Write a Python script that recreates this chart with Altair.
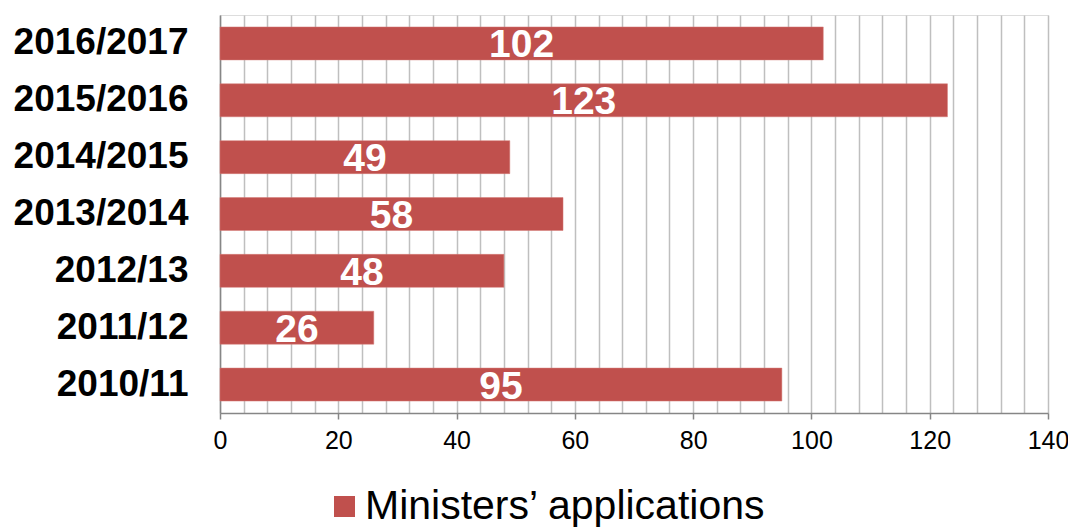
import altair as alt
import pandas as pd

years = ["2016/2017", "2015/2016", "2014/2015", "2013/2014", "2012/13", "2011/12", "2010/11"]
values = [102, 123, 49, 58, 48, 26, 95]
series = "Ministers\u2019 applications"

df = pd.DataFrame({"year": years, "value": values, "series": [series] * len(years)})

FONT = "Liberation Sans"
grid_vals = list(range(0, 141, 4))

x_axis = alt.Axis(
    values=grid_vals,
    title=None,
    grid=True,
    gridColor="#BFBFBF",
    gridWidth=1.5,
    domainColor="#868686",
    domainWidth=1.5,
    tickColor="#868686",
    tickWidth=1.5,
    tickSize=6,
    tickOpacity={"condition": {"test": "datum.value % 20 == 0", "value": 1}, "value": 0},
    labelExpr="datum.value % 20 == 0 ? datum.label : ''",
    labelOverlap=False,
    labelFont=FONT,
    labelFontSize=25,
    labelColor="#000000",
    labelPadding=9,
    labelFlush=False,
)
x_scale = alt.Scale(domain=[0, 140], nice=False, zero=True)

y_enc = alt.Y(
    "year:N",
    sort=years,
    scale=alt.Scale(paddingInner=0.42, paddingOuter=0.21),
    axis=alt.Axis(
        title=None,
        grid=False,
        ticks=False,
        domainColor="#868686",
        domainWidth=1.5,
        labelFont=FONT,
        labelFontSize=37,
        labelFontWeight="bold",
        labelColor="#000000",
        labelPadding=32,
    ),
)

bars = alt.Chart(df).mark_bar(stroke="#D47A77", strokeWidth=0.5).encode(
    x=alt.X("value:Q", scale=x_scale, axis=x_axis),
    y=y_enc,
    color=alt.Color(
        "series:N",
        scale=alt.Scale(range=["#C0504D"]),
        legend=alt.Legend(
            title=None,
            orient="none",
            legendX=104,
            legendY=471,
            symbolType="square",
            symbolSize=441,
            symbolStrokeWidth=0,
            labelFont=FONT,
            labelFontSize=41,
            labelColor="#000000",
            labelOffset=0,
            labelLimit=600,
        ),
    ),
)

labels = alt.Chart(df).transform_calculate(mid="datum.value / 2").mark_text(
    font=FONT, fontSize=39, fontWeight="bold", color="white", baseline="middle", align="center", dy=2
).encode(
    x=alt.X("mid:Q", scale=x_scale, axis=x_axis),
    y=y_enc,
    text=alt.Text("value:Q"),
)

chart = (
    alt.layer(bars, labels)
    .properties(
        width=828,
        height=398,
        autosize=alt.AutoSizeParams(type="none"),
        padding={"left": 212, "top": 7, "right": 20, "bottom": 116},
    )
    .configure_view(stroke=None)
    .configure(background="white")
)

chart.save("out.html", embed_options={"renderer": "svg", "actions": False})
